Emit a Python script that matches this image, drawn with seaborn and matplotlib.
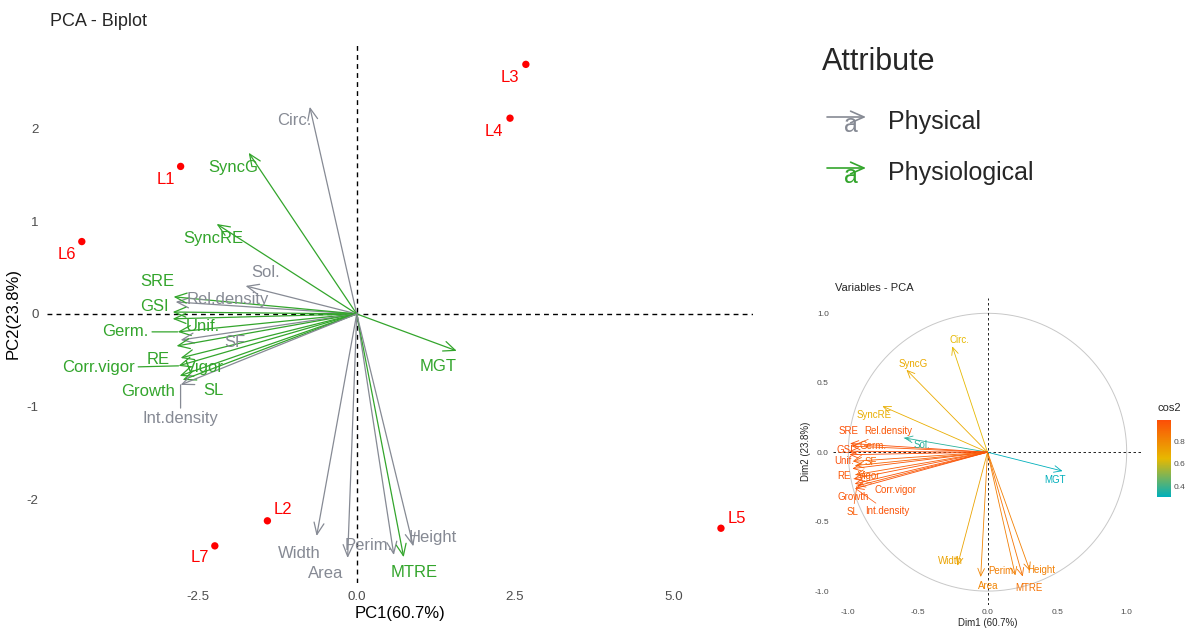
import matplotlib
matplotlib.use("Agg")
import matplotlib.pyplot as plt
import matplotlib.colors as mcolors
import seaborn as sns
import pandas as pd
import numpy as np

sns.set_theme(style="white")
plt.rcParams['font.family'] = ['Liberation Sans', 'DejaVu Sans']
plt.rcParams['axes.unicode_minus'] = False

# individuals (PC scores)
lines = ["L1", "L2", "L3", "L4", "L5", "L6", "L7"]
pc1_score = [-2.78, -1.41, 2.67, 2.42, 5.75, -4.34, -2.24]
pc2_score = [1.59, -2.23, 2.69, 2.11, -2.31, 0.78, -2.50]

# variables (loadings on Dim1 / Dim2)
variables = ["Circ.", "SyncG", "SyncRE", "Sol.", "Rel.density", "SRE", "GSI", "Unif.",
             "Germ.", "SF", "RE", "Corr.vigor", "Vigor", "SL", "Growth", "Int.density",
             "MGT", "Width", "Area", "Perim.", "MTRE", "Height"]
attribute = ["Physical", "Physiological", "Physiological", "Physical", "Physical",
             "Physiological", "Physiological", "Physiological", "Physiological", "Physical",
             "Physiological", "Physiological", "Physiological", "Physiological", "Physiological",
             "Physical", "Physiological", "Physical", "Physical", "Physical", "Physiological",
             "Physical"]
dim1 = [-0.253, -0.582, -0.755, -0.599, -0.976, -0.987, -0.992, -0.992, -0.965, -0.949,
        -0.971, -0.960, -0.949, -0.938, -0.954, -0.949, 0.539, -0.216, -0.049, 0.200,
        0.253, 0.305]
dim2 = [0.762, 0.593, 0.331, 0.103, 0.044, 0.063, 0.007, -0.018, -0.066, -0.096,
        -0.118, -0.191, -0.162, -0.243, -0.228, -0.261, -0.136, -0.817, -0.898, -0.887,
        -0.895, -0.855]
arrow_scale = 2.93
pc1_var, pc2_var = 60.7, 23.8

ind = pd.DataFrame({"name": lines, "PC1": pc1_score, "PC2": pc2_score})
var = pd.DataFrame({"name": variables, "attr": attribute, "d1": dim1, "d2": dim2})
var["cos2"] = var.d1 ** 2 + var.d2 ** 2

# label placement (pixels, dx right / dy up)
main_off = {"Circ.": (-16, -14), "SyncG": (-15, -15), "SyncRE": (-3, -15), "Sol.": (20, 13),
            "Rel.density": (52, 2), "SRE": (-16, 15), "GSI": (-18, 6), "Unif.": (30, -8),
            "Germ.": (-52, 0), "SF": (54, -2), "RE": (-18, -13), "Corr.vigor": (-80, -2),
            "Vigor": (24, -10), "SL": (31, -11), "Growth": (-32, -16), "Int.density": (0, -34),
            "MGT": (-19, -16), "Width": (-17, -17), "Area": (-22, -15), "Perim.": (-25, 10),
            "MTRE": (11, -15), "Height": (19, 9)}
main_seg = ["Germ.", "Corr.vigor", "Int.density"]
inset_off = {"Circ.": (7, 6), "SyncG": (7, 6), "SyncRE": (-8, -9), "Sol.": (18, -7),
             "Rel.density": (37, 15), "SRE": (-2, 12), "GSI": (-5, 1), "Unif.": (-5, -6),
             "Germ.": (20, 15), "SF": (15, 4), "RE": (-8, -7), "Corr.vigor": (42, -11),
             "Vigor": (14, -1), "SL": (-4, -26), "Growth": (-2, -13), "Int.density": (32, -23),
             "MGT": (-8, -9), "Width": (-7, 5), "Area": (8, -9), "Perim.": (-13, 4),
             "MTRE": (6, -11), "Height": (11, 1)}
ind_off = {"L1": (-15, -13), "L2": (16, 11), "L3": (-16, -13), "L4": (-16, -13),
           "L5": (16, 10), "L6": (-15, -13), "L7": (-15, -12)}

palette = {"Physical": "#868a94", "Physiological": "#33a52c"}
tick_col = "#4d4d4d"

fig = plt.figure(figsize=(11.92, 6.28), dpi=100)

# ---------------- main biplot ----------------
ax = fig.add_axes([0.0394, 0.0717, 0.592, 0.8583])
ax.axhline(0, color="black", ls=(0, (3.5, 3)), lw=1, zorder=1)
ax.axvline(0, color="black", ls=(0, (3.5, 3)), lw=1, zorder=1)

for _, r in var.iterrows():
    c = palette[r.attr]
    tip = (r.d1 * arrow_scale, r.d2 * arrow_scale)
    ax.annotate("", xy=tip, xytext=(0, 0),
                arrowprops=dict(arrowstyle="->,head_length=0.7,head_width=0.3",
                                color=c, lw=0.9, shrinkA=0, shrinkB=0), zorder=2)
    props = None
    if r["name"] in main_seg:
        props = dict(arrowstyle="-", color=c, lw=0.9, shrinkA=0, shrinkB=0)
    ax.annotate(r["name"], xy=tip, xytext=main_off[r["name"]], textcoords="offset pixels",
                ha="center", va="center", fontsize=12, color=c, arrowprops=props, zorder=3)

sns.scatterplot(data=ind, x="PC1", y="PC2", color="red", s=28, edgecolor="none",
                legend=False, ax=ax, zorder=4)
for _, r in ind.iterrows():
    ax.annotate(r["name"], xy=(r.PC1, r.PC2), xytext=ind_off[r["name"]],
                textcoords="offset pixels", ha="center", va="center",
                fontsize=12, color="red")

ax.set_xlim(-4.89, 6.25)
ax.set_ylim(-2.90, 2.91)
ax.set_xticks([-2.5, 0, 2.5, 5.0])
ax.set_xticklabels(["-2.5", "0.0", "2.5", "5.0"])
ax.set_yticks([-2, -1, 0, 1, 2])
ax.set_yticklabels(["-2", "-1", "0", "1", "2"])
ax.tick_params(length=0, labelsize=9.6, labelcolor=tick_col, pad=6)
for s in ax.spines.values():
    s.set_visible(False)
ax.set_xlabel(f"PC1({pc1_var}%)", fontsize=12, color="black", labelpad=2)
ax.set_ylabel(f"PC2({pc2_var}%)", fontsize=12, color="black", labelpad=4)
fig.text(50 / 1192, 1 - 22 / 628, "PCA - Biplot", fontsize=13, ha="left", va="center")

# ---------------- legend ----------------
fig.text(822 / 1192, 1 - 62 / 628, "Attribute", fontsize=22, ha="left", va="center")
for i, lab in enumerate(["Physical", "Physiological"]):
    yc = 122 + 51 * i
    c = palette[lab]
    fig.text(851 / 1192, 1 - (yc + 3) / 628, "a", fontsize=18, color=c,
             ha="center", va="center")
    ax.annotate("", xy=(866, 628 - (yc - 5)), xytext=(827, 628 - (yc - 5)),
                xycoords="figure pixels", textcoords="figure pixels",
                arrowprops=dict(arrowstyle="->,head_length=0.8,head_width=0.35",
                                color=c, lw=1.2, shrinkA=0, shrinkB=0))
    fig.text(888 / 1192, 1 - yc / 628, lab, fontsize=18, ha="left", va="center")

# ---------------- inset: variables PCA ----------------
cmap = mcolors.LinearSegmentedColormap.from_list("cos2", ["#00AFBB", "#E7B800", "#FC4E07"])
norm = mcolors.Normalize(vmin=var.cos2.min(), vmax=var.cos2.max())

ax2 = fig.add_axes([833 / 1192, 1 - 605 / 628, 309 / 1192, 307 / 628])
theta = np.linspace(0, 2 * np.pi, 300)
ax2.plot(np.cos(theta), np.sin(theta), color="#c8c8c8", lw=0.7, zorder=1)
ax2.axhline(0, color="black", ls=(0, (3, 3)), lw=0.6, zorder=1)
ax2.axvline(0, color="black", ls=(0, (3, 3)), lw=0.6, zorder=1)
for _, r in var.iterrows():
    c = cmap(norm(r.cos2))
    ax2.annotate("", xy=(r.d1, r.d2), xytext=(0, 0),
                 arrowprops=dict(arrowstyle="->,head_length=0.45,head_width=0.2",
                                 color=c, lw=0.6, shrinkA=0, shrinkB=0), zorder=2)
    dx, dy = inset_off[r["name"]]
    props = None
    if np.hypot(dx, dy) > 14:
        props = dict(arrowstyle="-", color=c, lw=0.5, shrinkA=0, shrinkB=0)
    ax2.annotate(r["name"], xy=(r.d1, r.d2), xytext=(dx, dy), textcoords="offset pixels",
                 ha="center", va="center", fontsize=7, color=c, arrowprops=props, zorder=3)
ax2.set_xlim(-1.11, 1.11)
ax2.set_ylim(-1.10, 1.11)
ticks = [-1.0, -0.5, 0.0, 0.5, 1.0]
ax2.set_xticks(ticks)
ax2.set_yticks(ticks)
ax2.set_xticklabels([f"{t:.1f}" for t in ticks])
ax2.set_yticklabels([f"{t:.1f}" for t in ticks])
ax2.tick_params(length=0, labelsize=6, labelcolor=tick_col, pad=3)
for s in ax2.spines.values():
    s.set_visible(False)
ax2.patch.set_alpha(0)
ax2.set_xlabel(f"Dim1 ({pc1_var}%)", fontsize=7, labelpad=1)
ax2.set_ylabel(f"Dim2 ({pc2_var}%)", fontsize=7, labelpad=2)
fig.text(835 / 1192, 1 - 288 / 628, "Variables - PCA", fontsize=8, ha="left", va="center")

# colorbar
cax = fig.add_axes([1157 / 1192, 1 - 497 / 628, 14 / 1192, 77 / 628])
sm = plt.cm.ScalarMappable(norm=norm, cmap=cmap)
cb = fig.colorbar(sm, cax=cax)
cb.outline.set_visible(False)
cb.set_ticks([0.4, 0.6, 0.8])
cb.ax.tick_params(length=3, width=0.6, color="white", direction="in",
                  labelsize=6, labelcolor=tick_col, pad=2)
fig.text(1157 / 1192, 1 - 408 / 628, "cos2", fontsize=8, ha="left", va="center")

fig.savefig("out.png", dpi=100)
